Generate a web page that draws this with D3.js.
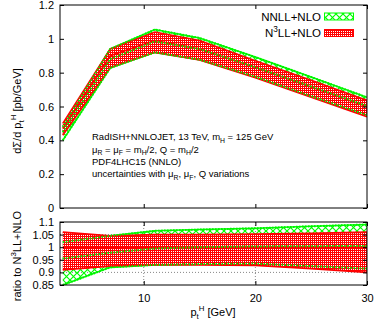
<!DOCTYPE html>
<html lang="en">
  <head>
    <meta charset="utf-8">
    <title>pt H ratio plot</title>
    <script type="text/javascript" src="https://cdn.jsdelivr.net/npm/d3@7"></script>
    <style>
      body { margin: 0; background: #fff; }
      svg { font-family: "Liberation Sans", Arial, sans-serif; }
      .axis text { font-size: 11px; fill: #000; }
      .axis line { stroke: #000; }
      .grid line { stroke: #888; stroke-dasharray: 1,2; }
    </style>
  </head>
  <body>
    <script type="text/javascript">

      // pt values of the curve nodes (GeV)
      var ptH = [2.75, 7, 11, 15, 20, 25, 30];

      // top panel: dSigma/dpt [pb/GeV]
      var n3llCentral = [0.47, 0.90, 0.99, 0.94, 0.83, 0.715, 0.60];
      var n3llUp      = [0.50, 0.94, 1.04, 0.99, 0.87, 0.755, 0.636];
      var n3llDown    = [0.43, 0.83, 0.92, 0.875, 0.77, 0.655, 0.54];
      var nnllCentral = [0.45, 0.88, 0.985, 0.94, 0.832, 0.718, 0.603];
      var nnllUp      = [0.48, 0.94, 1.055, 1.005, 0.892, 0.774, 0.654];
      var nnllDown    = [0.40, 0.828, 0.92, 0.877, 0.776, 0.661, 0.549];

      // bottom panel: ratio to N3LL+NLO central
      var rN3llCentral = [1, 1, 1, 1, 1, 1, 1];
      var rN3llUp      = [1.06, 1.045, 1.05, 1.05, 1.052, 1.055, 1.06];
      var rN3llDown    = [0.91, 0.925, 0.93, 0.93, 0.928, 0.915, 0.90];
      var rNnllCentral = [0.955, 0.978, 0.995, 1.0, 1.003, 1.004, 1.005];
      var rNnllUp      = [1.02, 1.045, 1.065, 1.07, 1.075, 1.083, 1.09];
      var rNnllDown    = [0.85, 0.92, 0.93, 0.933, 0.935, 0.925, 0.915];

      var xTicks = [10, 20, 30];
      var topTicks = [0, 0.2, 0.4, 0.6, 0.8, 1, 1.2];
      var topTickLabels = ["0", "0.2", "0.4", "0.6", "0.8", "1", "1.2"];
      var botTicks = [0.85, 0.9, 0.95, 1, 1.05, 1.1];
      var botTickLabels = ["0.85", "0.9", "0.95", "1", "1.05", "1.1"];

      var w = 374;
      var h = 321;
      var left = 60, right = 367;
      var topY0 = 5, topY1 = 208;
      var botY0 = 222, botY1 = 285;

      var svg = d3.select("body")
                  .append("svg")
                  .attr("width", w)
                  .attr("height", h);

      var defs = svg.append("defs");

      // red fill: red with a regular grid of white dots
      var pRed = defs.append("pattern")
                     .attr("id", "redfill")
                     .attr("patternUnits", "userSpaceOnUse")
                     .attr("width", 2)
                     .attr("height", 2);
      pRed.append("rect").attr("width", 2).attr("height", 2).attr("fill", "#ff0000");
      pRed.append("rect").attr("x", 1).attr("y", 1).attr("width", 1).attr("height", 1).attr("fill", "#fff");

      // green crosshatch
      var pGreen = defs.append("pattern")
                       .attr("id", "greenhatch")
                       .attr("patternUnits", "userSpaceOnUse")
                       .attr("width", 7)
                       .attr("height", 7);
      pGreen.append("path")
            .attr("d", "M0,0L7,7M7,0L0,7")
            .attr("stroke", "#00ff00")
            .attr("stroke-width", 1.2)
            .attr("fill", "none");

      defs.append("clipPath").attr("id", "clipTop")
          .append("rect").attr("x", left).attr("y", topY0)
          .attr("width", right - left).attr("height", topY1 - topY0);
      defs.append("clipPath").attr("id", "clipBot")
          .append("rect").attr("x", left).attr("y", botY0)
          .attr("width", right - left).attr("height", botY1 - botY0);

      var xScale = d3.scaleLinear()
                     .domain([2.5, 30])
                     .range([left, right]);

      var yTop = d3.scaleLinear()
                   .domain([0, 1.2])
                   .range([topY1, topY0]);

      var yBot = d3.scaleLinear()
                   .domain([0.85, 1.1])
                   .range([botY1, botY0]);

      var idx = d3.range(ptH.length);

      function drawPanel(yScale, clipId, series) {
        var g = svg.append("g").attr("clip-path", "url(#" + clipId + ")");

        function area(lo, hi) {
          return d3.area()
                   .x(function(i) { return xScale(ptH[i]); })
                   .y0(function(i) { return yScale(lo[i]); })
                   .y1(function(i) { return yScale(hi[i]); });
        }
        function line(v) {
          return d3.line()
                   .x(function(i) { return xScale(ptH[i]); })
                   .y(function(i) { return yScale(v[i]); });
        }

        // NNLL band
        g.append("path").attr("d", area(series.gDown, series.gUp)(idx))
         .attr("fill", "url(#greenhatch)");
        [series.gUp, series.gDown, series.gMid].forEach(function(v) {
          g.append("path").attr("d", line(v)(idx))
           .attr("fill", "none").attr("stroke", "#00ff00").attr("stroke-width", 1.6);
        });

        // N3LL band
        g.append("path").attr("d", area(series.rDown, series.rUp)(idx))
         .attr("fill", "url(#redfill)");
        [series.rUp, series.rDown, series.rMid].forEach(function(v) {
          g.append("path").attr("d", line(v)(idx))
           .attr("fill", "none").attr("stroke", "#ff0000").attr("stroke-width", 1.6);
        });

        // NNLL lines showing through the red fill
        [series.gUp, series.gDown, series.gMid].forEach(function(v) {
          g.append("path").attr("d", line(v)(idx))
           .attr("fill", "none").attr("stroke", "#00ee00")
           .attr("stroke-width", 2).attr("stroke-dasharray", "1.5,1.5");
        });
      }

      // grid in the ratio panel
      var grid = svg.append("g").attr("class", "grid");
      grid.selectAll("line.gy")
          .data(botTicks.slice(1, -1))
          .enter()
          .append("line")
          .attr("x1", left).attr("x2", right)
          .attr("y1", function(d) { return yBot(d); })
          .attr("y2", function(d) { return yBot(d); });
      grid.selectAll("line.gx")
          .data([10, 20])
          .enter()
          .append("line")
          .attr("x1", function(d) { return xScale(d); })
          .attr("x2", function(d) { return xScale(d); })
          .attr("y1", botY0).attr("y2", botY1);

      drawPanel(yTop, "clipTop", {
        gUp: nnllUp, gDown: nnllDown, gMid: nnllCentral,
        rUp: n3llUp, rDown: n3llDown, rMid: n3llCentral
      });
      drawPanel(yBot, "clipBot", {
        gUp: rNnllUp, gDown: rNnllDown, gMid: rNnllCentral,
        rUp: rN3llUp, rDown: rN3llDown, rMid: rN3llCentral
      });

      // axes, ticks pointing inward
      function frame(yScale, ticks, labels, y0, y1, showX) {
        svg.append("g").attr("class", "axis")
           .attr("transform", "translate(" + left + ",0)")
           .call(d3.axisLeft(yScale).tickValues(ticks).tickSize(-4).tickPadding(6)
                   .tickFormat(function(d, i) { return labels[i]; }))
           .call(function(g) { g.select(".domain").remove(); });
        svg.append("g").attr("class", "axis")
           .attr("transform", "translate(" + right + ",0)")
           .call(d3.axisRight(yScale).tickValues(ticks).tickSize(-4).tickFormat(""))
           .call(function(g) { g.select(".domain").remove(); });
        svg.append("g").attr("class", "axis")
           .attr("transform", "translate(0," + y1 + ")")
           .call(d3.axisBottom(xScale).tickValues(xTicks).tickSize(-4).tickPadding(9)
                   .tickFormat(showX ? d3.format("d") : ""))
           .call(function(g) { g.select(".domain").remove(); });
        svg.append("g").attr("class", "axis")
           .attr("transform", "translate(0," + y0 + ")")
           .call(d3.axisTop(xScale).tickValues(xTicks).tickSize(-4).tickFormat(""))
           .call(function(g) { g.select(".domain").remove(); });
        svg.append("rect")
           .attr("x", left).attr("y", y0)
           .attr("width", right - left).attr("height", y1 - y0)
           .attr("fill", "none").attr("stroke", "#000").attr("stroke-width", 1);
      }
      frame(yTop, topTicks, topTickLabels, topY0, topY1, false);
      frame(yBot, botTicks, botTickLabels, botY0, botY1, true);

      // text helper: parts are [text, shift] with shift 0 normal, 1 sub, -1 sup
      function rich(sel, parts, size) {
        var cur = 0;
        parts.forEach(function(p) {
          var target = p[1] === 1 ? size * 0.28 : (p[1] === -1 ? -size * 0.45 : 0);
          sel.append("tspan")
             .attr("dy", target - cur)
             .attr("font-size", p[1] === 0 ? size : size * 0.72)
             .text(p[0]);
          cur = target;
        });
      }

      // legend
      var legend = [
        { parts: [["NNLL+NLO", 0]], fill: "url(#greenhatch)", stroke: "#00ff00", y: 20.5 },
        { parts: [["N", 0], ["3", -1], ["LL+NLO", 0]], fill: "url(#redfill)", stroke: "#ff0000", y: 37 }
      ];
      legend.forEach(function(l) {
        var t = svg.append("text")
                   .attr("x", 321).attr("y", l.y)
                   .attr("text-anchor", "end");
        rich(t, l.parts, 11.5);
        svg.append("rect")
           .attr("x", 324.5).attr("y", l.y - 7.5)
           .attr("width", 29).attr("height", 7)
           .attr("fill", l.fill).attr("stroke", l.stroke).attr("stroke-width", 1);
      });

      // info text
      var info = [
        [["RadISH+NNLOJET, 13 TeV, m", 0], ["H", 1], [" = 125 GeV", 0]],
        [["\u03bc", 0], ["R", 1], [" = \u03bc", 0], ["F", 1], [" = m", 0], ["H", 1], ["/2, Q = m", 0], ["H", 1], ["/2", 0]],
        [["PDF4LHC15 (NNLO)", 0]],
        [["uncertainties with \u03bc", 0], ["R", 1], [", \u03bc", 0], ["F", 1], [", Q variations", 0]]
      ];
      var infoY = [140, 152.5, 165, 177];
      info.forEach(function(parts, i) {
        var t = svg.append("text").attr("x", 92).attr("y", infoY[i]);
        rich(t, parts, 9.5);
      });

      // axis titles
      var yt = svg.append("text")
                  .attr("transform", "translate(21,111) rotate(-90)")
                  .attr("text-anchor", "middle");
      rich(yt, [["d\u03a3/d p", 0], ["t", 1], ["H", -1], [" [pb/GeV]", 0]], 11);

      var yb = svg.append("text")
                  .attr("transform", "translate(21,256) rotate(-90)")
                  .attr("text-anchor", "middle");
      rich(yb, [["ratio to N", 0], ["3", -1], ["LL+NLO", 0]], 11);

      var xt = svg.append("text")
                  .attr("x", 213).attr("y", 316)
                  .attr("text-anchor", "middle");
      rich(xt, [["p", 0], ["t", 1], ["H", -1], [" [GeV]", 0]], 11);

    </script>
  </body>
</html>
